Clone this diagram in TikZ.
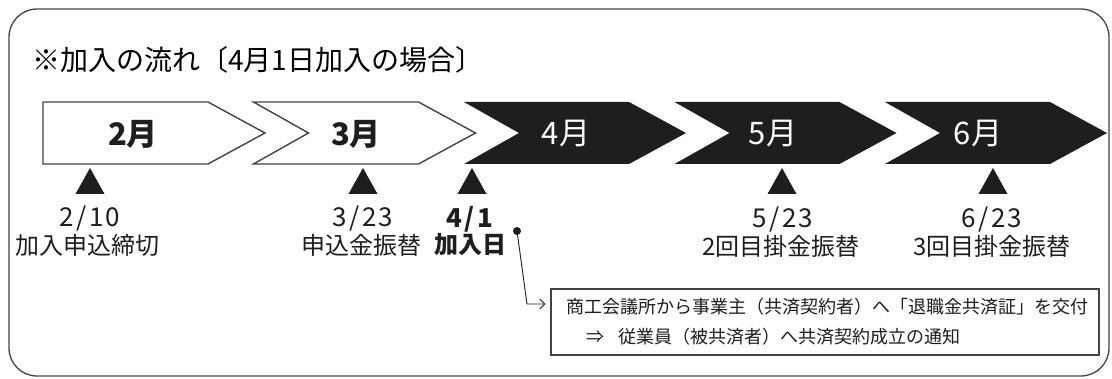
\documentclass[tikz,border=0pt]{standalone}
\usepackage{fontspec}
\setmainfont{Noto Sans CJK JP}
\newfontfamily\jp{Noto Sans CJK JP}
\newfontfamily\jpdigits[LetterSpace=9]{Noto Sans CJK JP}
\usetikzlibrary{arrows.meta}
\definecolor{ink}{HTML}{1E1E1E}
\definecolor{edge}{HTML}{444444}
\begin{document}
\begin{tikzpicture}[x=1pt,y=-1pt,
  frame/.style={draw=edge, line width=1.3pt, rounded corners=28pt},
  chevwhite/.style={draw=edge, line width=1.4pt, fill=white, line join=miter},
  chevblack/.style={fill=ink},
  tri/.style={fill=ink},
  title/.style={inner sep=0pt, anchor=west, font=\jp\fontsize{28}{31}\selectfont},
  monthdark/.style={inner sep=0pt, text=ink, font=\jp\bfseries\fontsize{31}{34}\selectfont},
  monthlight/.style={inner sep=0pt, text=white, font=\jp\fontsize{31}{34}\selectfont},
  datelbl/.style={inner sep=0pt, text=ink, font=\jpdigits\fontsize{26}{29}\selectfont},
  datebold/.style={inner sep=0pt, text=ink, font=\jpdigits\bfseries\fontsize{26}{29}\selectfont},
  lbl/.style={inner sep=0pt, text=ink, font=\jp\fontsize{24}{27}\selectfont},
  lblbold/.style={inner sep=0pt, text=ink, font=\jp\bfseries\fontsize{24}{27}\selectfont},
  infobox/.style={draw=edge, line width=1.2pt, minimum width=548pt, minimum height=66pt, inner sep=0pt},
  infotext/.style={inner sep=0pt, anchor=west, text=ink, font=\jp\fontsize{18}{21}\selectfont},
  conn/.style={draw=ink, line width=0.9pt},
  dotnode/.style={circle, fill=ink, inner sep=0pt, minimum size=8pt}
]
\useasboundingbox (0,0) rectangle (1112,379);
\fill[white] (0,0) rectangle (1112,379);
% outer frame
\draw[frame] (9,9) rectangle (1109,376);
% title
\node[title] (ttl) at (32,60) {※加入の流れ〔4月1日加入の場合〕};
% chevrons
\draw[chevwhite] (43,102) -- (208,102) -- (265,133) -- (208,164) -- (43,164) -- cycle;
\draw[chevwhite] (253.5,102) -- (418.5,102) -- (475.5,133) -- (418.5,164) -- (253.5,164) -- (308.5,133) -- cycle;
\foreach \L in {464,674.5,885}{
  \fill[chevblack] (\L,102) -- (\L+165,102) -- (\L+222,133) -- (\L+165,164) -- (\L,164) -- (\L+55,133) -- cycle;
}
% month labels
\node[monthdark] (m2) at (133,134) {2月};
\node[monthdark] (m3) at (356,134) {3月};
\node[monthlight] (m4) at (566,134) {4月};
\node[monthlight] (m5) at (773,134) {5月};
\node[monthlight] (m6) at (978,134) {6月};
% triangles
\foreach \X in {90,363,472,782,993}{
  \fill[tri] (\X,168) -- (\X+14.5,194) -- (\X-14.5,194) -- cycle;
}
% dates and descriptions
\node[datelbl] (d1) at (90,219) {2/10};
\node[lbl] (e1) at (88,245) {加入申込締切};
\node[datelbl] (d2) at (363,219) {3/23};
\node[lbl] (e2) at (361,245) {申込金振替};
\node[datebold] (d3) at (470,219) {4/1};
\node[lblbold] (e3) at (470,245) {加入日};
\node[datelbl] (d4) at (783,220) {5/23};
\node[lbl] (e4) at (781,246) {2回目掛金振替};
\node[datelbl] (d5) at (992,220) {6/23};
\node[lbl] (e5) at (992,246) {3回目掛金振替};
% info box
\node[infobox] (box) at (825,322) {};
\node[infotext] (t1) at (566,307) {商工会議所から事業主（共済契約者）へ「退職金共済証」を交付};
\node[infotext] (t2) at (586,337) {⇒\hspace{14pt}従業員（被共済者）へ共済契約成立の通知};
% connector
\node[dotnode] (dot) at (517,231) {};
\coordinate (bend) at (527,304);
\draw[conn, -{Straight Barb[length=5pt,width=10pt]}, shorten >=5pt] (dot.center) -- (bend) -- (bend -| box.west);
\end{tikzpicture}
\end{document}
